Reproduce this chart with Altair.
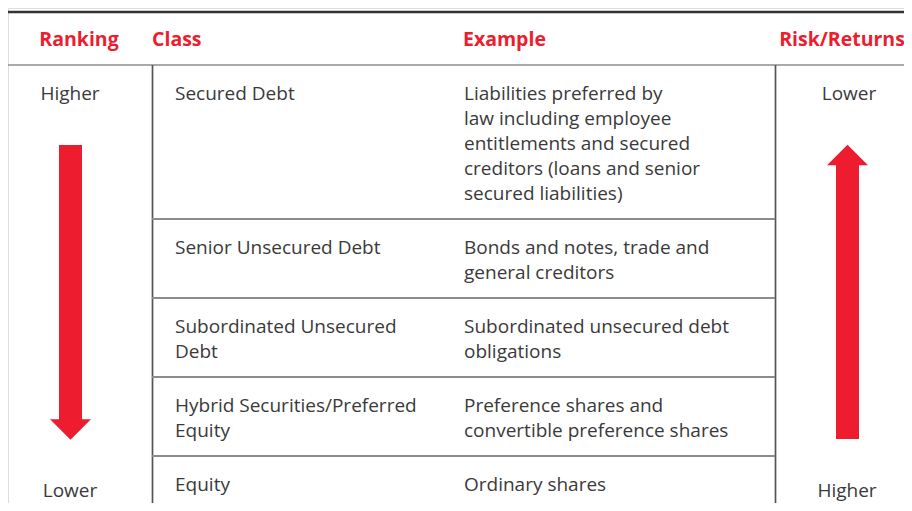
import altair as alt
import pandas as pd

# ---- content ----
headers = ["Ranking", "Class", "Example", "Risk/Returns"]
classes = [
    "Secured Debt",
    "Senior Unsecured Debt",
    "Subordinated Unsecured\nDebt",
    "Hybrid Securities/Preferred\nEquity",
    "Equity",
]
examples = [
    "Liabilities preferred by\nlaw including employee\nentitlements and secured\ncreditors (loans and senior\nsecured liabilities)",
    "Bonds and notes, trade and\ngeneral creditors",
    "Subordinated unsecured debt\nobligations",
    "Preference shares and\nconvertible preference shares",
    "Ordinary shares",
]
ranking_ends = ["Higher", "Lower"]
risk_ends = ["Lower", "Higher"]

# ---- layout (page pixel coordinates) ----
RED = "#ED1C2E"
TXT = "#3a3a3a"
FONT = "Open Sans"
row_tops = [65, 219, 298, 377, 456]
left, right = 8, 904      # visible page area (8px margin)
top, bottom = 8, 503
col_class_x, col_ex_x = 152, 775
header_y = 46
header_x = [79, 152, 463, 842]
header_align = ["center", "left", "left", "center"]

X = alt.X("x:Q", scale=alt.Scale(domain=[left, right]), axis=None)
X2 = alt.X2("x2:Q")
Y = alt.Y("y:Q", scale=alt.Scale(domain=[top, bottom], reverse=True), axis=None)
Y2 = alt.Y2("y2:Q")

# header texts
hdr = pd.DataFrame({"t": headers, "x": header_x, "y": [header_y] * 4, "a": header_align})
hdr_layers = []
for al in ["center", "left"]:
    d = hdr[hdr.a == al]
    hdr_layers.append(
        alt.Chart(d).mark_text(font=FONT, fontSize=19.5, fontWeight="bold", color=RED,
                               align=al, baseline="alphabetic")
        .encode(x=X, y=Y, text="t:N")
    )

# body texts
body = pd.DataFrame({
    "t": classes + examples,
    "x": [175] * 5 + [464] * 5,
    "y": [r + 35 for r in row_tops] * 2,
})
body_layer = alt.Chart(body).mark_text(
    font=FONT, fontSize=19, color=TXT, align="left", baseline="alphabetic",
    lineBreak="\n", lineHeight=25
).encode(x=X, y=Y, text="t:N")

ends = pd.DataFrame({
    "t": ranking_ends + risk_ends,
    "x": [70, 70, 849, 847],
    "y": [100, 497, 100, 497],
})
ends_layer = alt.Chart(ends).mark_text(
    font=FONT, fontSize=19, color=TXT, align="center", baseline="alphabetic"
).encode(x=X, y=Y, text="t:N")

# rules
top_rule = alt.Chart(pd.DataFrame({"x": [left], "x2": [right], "y": [12]})).mark_rule(
    color="#333333", strokeWidth=2.5).encode(x=X, x2=X2, y=Y)
hdr_rule = alt.Chart(pd.DataFrame({"x": [left], "x2": [right], "y": [65]})).mark_rule(
    color="#8c8c8c", strokeWidth=1.3).encode(x=X, x2=X2, y=Y)
vrules = alt.Chart(pd.DataFrame({"x": [col_class_x + 0.5, col_ex_x + 0.5],
                                 "y": [65, 65], "y2": [bottom, bottom]})).mark_rule(
    color="#555555", strokeWidth=1.7).encode(x=X, y=Y, y2=Y2)
seps = alt.Chart(pd.DataFrame({"x": [col_class_x] * 4, "x2": [col_ex_x] * 4,
                               "y": row_tops[1:]})).mark_rule(
    color="#8c8c8c", strokeWidth=1.8).encode(x=X, x2=X2, y=Y)

# arrows
shafts = alt.Chart(pd.DataFrame({"x": [59, 836], "x2": [82, 859],
                                 "y": [145, 164], "y2": [420, 439]})).mark_rect(
    color=RED).encode(x=X, x2=X2, y=Y, y2=Y2)
head_down = alt.Chart(pd.DataFrame({"x": [70.5], "y": [429.5]})).mark_point(
    shape="M-1,-0.5L1,-0.5L0,0.5Z", size=1681, filled=True, color=RED, opacity=1,
    strokeWidth=0).encode(x=X, y=Y)
head_up = alt.Chart(pd.DataFrame({"x": [847.5], "y": [155]})).mark_point(
    shape="M-1,0.5L1,0.5L0,-0.5Z", size=1681, filled=True, color=RED, opacity=1,
    strokeWidth=0).encode(x=X, y=Y)

chart = alt.layer(
    top_rule, hdr_rule, vrules, seps, shafts, head_down, head_up,
    *hdr_layers, body_layer, ends_layer
).properties(
    width=right - left, height=bottom - top,
    autosize=alt.AutoSizeParams(type="none"), padding=0
).configure_view(stroke=None).configure(background="white")

chart.save("out.html", embed_options={"renderer": "svg", "actions": False})
